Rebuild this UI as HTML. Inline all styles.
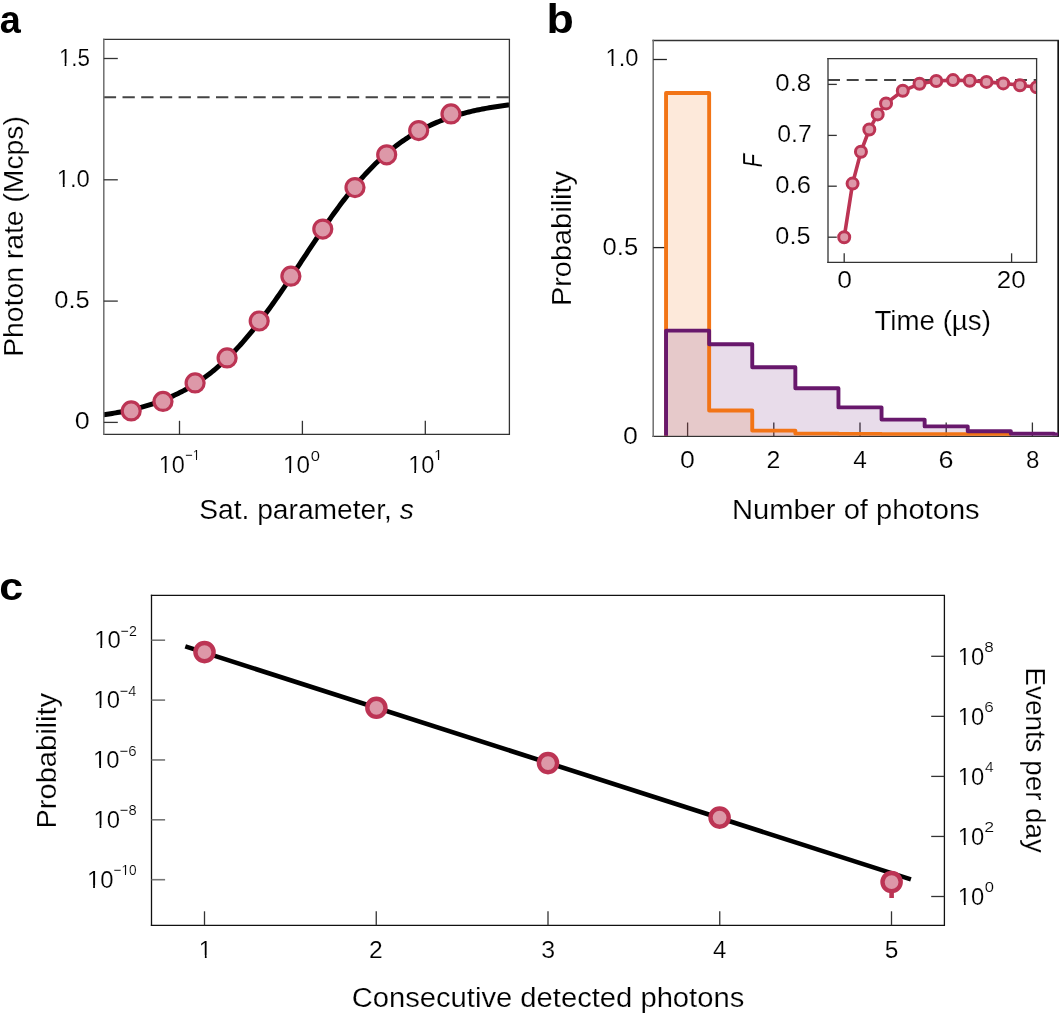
<!DOCTYPE html><html><head><meta charset="utf-8"><title>Figure</title><style>
html,body{margin:0;padding:0;background:#fff;width:1059px;height:1014px;overflow:hidden}
svg{display:block;will-change:transform;font-family:'Liberation Sans', sans-serif} text{fill:#000;stroke:#fff;stroke-width:0.18px;stroke-linejoin:round}
</style></head><body>
<svg width="1059" height="1014" viewBox="0 0 1059 1014">
<rect width="1059" height="1014" fill="#fff"/>
<line x1="103.8" y1="97.3" x2="509.4" y2="97.3" stroke="#444" stroke-width="2" stroke-dasharray="12.3 6.4"/>
<path d="M103.80,414.69 L105.49,414.45 L107.18,414.20 L108.87,413.95 L110.56,413.68 L112.25,413.41 L113.94,413.13 L115.63,412.84 L117.32,412.54 L119.01,412.23 L120.70,411.92 L122.39,411.59 L124.08,411.25 L125.77,410.91 L127.46,410.55 L129.15,410.19 L130.84,409.81 L132.53,409.42 L134.22,409.02 L135.91,408.61 L137.60,408.18 L139.29,407.75 L140.98,407.30 L142.67,406.83 L144.36,406.36 L146.05,405.87 L147.74,405.36 L149.43,404.85 L151.12,404.31 L152.81,403.76 L154.50,403.20 L156.19,402.62 L157.88,402.02 L159.57,401.41 L161.26,400.78 L162.95,400.13 L164.64,399.47 L166.33,398.78 L168.02,398.08 L169.71,397.36 L171.40,396.62 L173.09,395.86 L174.78,395.07 L176.47,394.27 L178.16,393.45 L179.85,392.60 L181.54,391.73 L183.23,390.84 L184.92,389.93 L186.61,388.99 L188.30,388.03 L189.99,387.05 L191.68,386.04 L193.37,385.00 L195.06,383.94 L196.75,382.86 L198.44,381.74 L200.13,380.61 L201.82,379.44 L203.51,378.25 L205.20,377.02 L206.89,375.77 L208.58,374.50 L210.27,373.19 L211.96,371.85 L213.65,370.49 L215.34,369.09 L217.03,367.67 L218.72,366.21 L220.41,364.73 L222.10,363.21 L223.79,361.66 L225.48,360.08 L227.17,358.47 L228.86,356.83 L230.55,355.16 L232.24,353.46 L233.93,351.73 L235.62,349.96 L237.31,348.16 L239.00,346.34 L240.69,344.48 L242.38,342.59 L244.07,340.67 L245.76,338.72 L247.45,336.74 L249.14,334.73 L250.83,332.69 L252.52,330.62 L254.21,328.52 L255.90,326.40 L257.59,324.24 L259.28,322.06 L260.97,319.86 L262.66,317.63 L264.35,315.37 L266.04,313.09 L267.73,310.78 L269.42,308.45 L271.11,306.10 L272.80,303.73 L274.49,301.34 L276.18,298.93 L277.87,296.50 L279.56,294.06 L281.25,291.59 L282.94,289.12 L284.63,286.63 L286.32,284.12 L288.01,281.61 L289.70,279.08 L291.39,276.54 L293.08,274.00 L294.77,271.45 L296.46,268.90 L298.15,266.34 L299.84,263.77 L301.53,261.21 L303.22,258.64 L304.91,256.08 L306.60,253.52 L308.29,250.96 L309.98,248.40 L311.67,245.86 L313.36,243.32 L315.05,240.78 L316.74,238.26 L318.43,235.75 L320.12,233.25 L321.81,230.76 L323.50,228.29 L325.19,225.83 L326.88,223.39 L328.57,220.97 L330.26,218.57 L331.95,216.18 L333.64,213.82 L335.33,211.48 L337.02,209.16 L338.71,206.86 L340.40,204.59 L342.09,202.34 L343.78,200.12 L345.47,197.92 L347.16,195.75 L348.85,193.60 L350.54,191.49 L352.23,189.40 L353.92,187.34 L355.61,185.31 L357.30,183.31 L358.99,181.34 L360.68,179.40 L362.37,177.50 L364.06,175.62 L365.75,173.77 L367.44,171.95 L369.13,170.17 L370.82,168.41 L372.51,166.69 L374.20,165.00 L375.89,163.34 L377.58,161.71 L379.27,160.11 L380.96,158.54 L382.65,157.01 L384.34,155.50 L386.03,154.02 L387.72,152.58 L389.41,151.17 L391.10,149.78 L392.79,148.43 L394.48,147.10 L396.17,145.80 L397.86,144.53 L399.55,143.29 L401.24,142.08 L402.93,140.90 L404.62,139.74 L406.31,138.61 L408.00,137.51 L409.69,136.43 L411.38,135.38 L413.07,134.35 L414.76,133.35 L416.45,132.38 L418.14,131.43 L419.83,130.50 L421.52,129.59 L423.21,128.71 L424.90,127.85 L426.59,127.01 L428.28,126.19 L429.97,125.40 L431.66,124.62 L433.35,123.87 L435.04,123.14 L436.73,122.42 L438.42,121.72 L440.11,121.05 L441.80,120.39 L443.49,119.75 L445.18,119.12 L446.87,118.51 L448.56,117.92 L450.25,117.35 L451.94,116.79 L453.63,116.25 L455.32,115.72 L457.01,115.21 L458.70,114.71 L460.39,114.22 L462.08,113.75 L463.77,113.29 L465.46,112.85 L467.15,112.42 L468.84,112.00 L470.53,111.59 L472.22,111.19 L473.91,110.81 L475.60,110.43 L477.29,110.07 L478.98,109.72 L480.67,109.38 L482.36,109.04 L484.05,108.72 L485.74,108.41 L487.43,108.10 L489.12,107.81 L490.81,107.52 L492.50,107.24 L494.19,106.97 L495.88,106.71 L497.57,106.46 L499.26,106.21 L500.95,105.97 L502.64,105.74 L504.33,105.52 L506.02,105.30 L507.71,105.08 L509.40,104.88" fill="none" stroke="#000" stroke-width="5"/>
<circle cx="131.2" cy="410.9" r="9.0" fill="#dd98a8" stroke="#bc3454" stroke-width="3.2"/>
<circle cx="163.0" cy="401.4" r="9.0" fill="#dd98a8" stroke="#bc3454" stroke-width="3.2"/>
<circle cx="195.1" cy="382.9" r="9.0" fill="#dd98a8" stroke="#bc3454" stroke-width="3.2"/>
<circle cx="227.1" cy="357.9" r="9.0" fill="#dd98a8" stroke="#bc3454" stroke-width="3.2"/>
<circle cx="259.2" cy="321.0" r="9.0" fill="#dd98a8" stroke="#bc3454" stroke-width="3.2"/>
<circle cx="290.9" cy="276.2" r="9.0" fill="#dd98a8" stroke="#bc3454" stroke-width="3.2"/>
<circle cx="322.8" cy="229.1" r="9.0" fill="#dd98a8" stroke="#bc3454" stroke-width="3.2"/>
<circle cx="355.0" cy="187.6" r="9.0" fill="#dd98a8" stroke="#bc3454" stroke-width="3.2"/>
<circle cx="386.7" cy="154.8" r="9.0" fill="#dd98a8" stroke="#bc3454" stroke-width="3.2"/>
<circle cx="418.7" cy="130.6" r="9.0" fill="#dd98a8" stroke="#bc3454" stroke-width="3.2"/>
<circle cx="451.0" cy="113.9" r="9.0" fill="#dd98a8" stroke="#bc3454" stroke-width="3.2"/>
<line x1="103.05" y1="39.30" x2="510.05" y2="39.30" stroke="#333" stroke-width="1.3"/>
<line x1="103.05" y1="434.30" x2="510.05" y2="434.30" stroke="#333" stroke-width="1.3"/>
<line x1="509.40" y1="39.30" x2="509.40" y2="434.30" stroke="#333" stroke-width="1.3"/>
<line x1="103.80" y1="38.65" x2="103.80" y2="434.95" stroke="#6e6e6e" stroke-width="1.5"/>
<line x1="103.80" y1="58.50" x2="117.80" y2="58.50" stroke="#333" stroke-width="1.3"/>
<line x1="103.80" y1="179.80" x2="117.80" y2="179.80" stroke="#333" stroke-width="1.3"/>
<line x1="103.80" y1="301.10" x2="117.80" y2="301.10" stroke="#333" stroke-width="1.3"/>
<line x1="103.80" y1="422.40" x2="117.80" y2="422.40" stroke="#333" stroke-width="1.3"/>
<line x1="179.50" y1="420.80" x2="179.50" y2="434.30" stroke="#333" stroke-width="1.3"/>
<line x1="302.40" y1="420.80" x2="302.40" y2="434.30" stroke="#333" stroke-width="1.3"/>
<line x1="425.30" y1="420.80" x2="425.30" y2="434.30" stroke="#333" stroke-width="1.3"/>
<line x1="652.45" y1="40.50" x2="1058.95" y2="40.50" stroke="#333" stroke-width="1.3"/>
<line x1="652.45" y1="436.30" x2="1058.95" y2="436.30" stroke="#333" stroke-width="1.3"/>
<line x1="1058.30" y1="40.50" x2="1058.30" y2="436.30" stroke="#333" stroke-width="1.3"/>
<line x1="653.20" y1="39.85" x2="653.20" y2="436.95" stroke="#6e6e6e" stroke-width="1.5"/>
<line x1="1058.30" y1="40.50" x2="1058.30" y2="436.30" stroke="#111" stroke-width="1.6"/>
<line x1="653.20" y1="59.50" x2="666.90" y2="59.50" stroke="#222" stroke-width="1.3"/>
<line x1="653.20" y1="247.60" x2="666.90" y2="247.60" stroke="#222" stroke-width="1.3"/>
<line x1="687.60" y1="422.50" x2="687.60" y2="436.30" stroke="#333" stroke-width="1.3"/>
<line x1="773.80" y1="422.50" x2="773.80" y2="436.30" stroke="#333" stroke-width="1.3"/>
<line x1="860.00" y1="422.50" x2="860.00" y2="436.30" stroke="#333" stroke-width="1.3"/>
<line x1="946.20" y1="422.50" x2="946.20" y2="436.30" stroke="#333" stroke-width="1.3"/>
<line x1="1032.40" y1="422.50" x2="1032.40" y2="436.30" stroke="#333" stroke-width="1.3"/>
<clipPath id="bc"><rect x="653.2" y="40.5" width="405.10" height="395.20"/></clipPath><g clip-path="url(#bc)">
<path d="M666.05,436.3 L666.05,93.00 L666.05,93.00 L709.15,93.00 L709.15,410.50 L752.25,410.50 L752.25,430.60 L795.35,430.60 L795.35,433.60 L838.45,433.60 L838.45,433.90 L881.55,433.90 L881.55,434.10 L924.65,434.10 L924.65,434.20 L967.75,434.20 L967.75,434.30 L1010.85,434.30 L1010.85,436.3 Z" fill="#f27416" fill-opacity="0.155" stroke="none"/>
<path d="M666.05,436.3 L666.05,330.60 L666.05,330.60 L709.15,330.60 L709.15,344.20 L752.25,344.20 L752.25,367.20 L795.35,367.20 L795.35,388.30 L838.45,388.30 L838.45,407.40 L881.55,407.40 L881.55,419.60 L924.65,419.60 L924.65,426.40 L967.75,426.40 L967.75,431.30 L1010.85,431.30 L1010.85,433.80 L1053.95,433.80 L1053.95,434.50 L1097.05,434.50 L1097.05,436.3 Z" fill="#661670" fill-opacity="0.15" stroke="none"/>
<path d="M666.05,436.3 L666.05,93.00 L666.05,93.00 L709.15,93.00 L709.15,410.50 L752.25,410.50 L752.25,430.60 L795.35,430.60 L795.35,433.60 L838.45,433.60 L838.45,433.90 L881.55,433.90 L881.55,434.10 L924.65,434.10 L924.65,434.20 L967.75,434.20 L967.75,434.30 L1010.85,434.30" fill="none" stroke="#f27416" stroke-width="3.9" stroke-linejoin="round"/>
<path d="M666.05,436.3 L666.05,330.60 L666.05,330.60 L709.15,330.60 L709.15,344.20 L752.25,344.20 L752.25,367.20 L795.35,367.20 L795.35,388.30 L838.45,388.30 L838.45,407.40 L881.55,407.40 L881.55,419.60 L924.65,419.60 L924.65,426.40 L967.75,426.40 L967.75,431.30 L1010.85,431.30 L1010.85,433.80 L1053.95,433.80 L1053.95,434.50 L1097.05,434.50" fill="none" stroke="#68186c" stroke-width="3.9" stroke-linejoin="round"/>
</g>
<rect x="828.0" y="58.7" width="208.60" height="203.60" fill="#fff" stroke="none"/>
<line x1="828.0" y1="79.9" x2="1036.6" y2="79.9" stroke="#444" stroke-width="2" stroke-dasharray="12 6.7"/>
<line x1="828.00" y1="84.40" x2="836.80" y2="84.40" stroke="#333" stroke-width="1.3"/>
<line x1="828.00" y1="135.40" x2="836.80" y2="135.40" stroke="#333" stroke-width="1.3"/>
<line x1="828.00" y1="186.20" x2="836.80" y2="186.20" stroke="#333" stroke-width="1.3"/>
<line x1="828.00" y1="237.20" x2="836.80" y2="237.20" stroke="#333" stroke-width="1.3"/>
<line x1="844.20" y1="253.30" x2="844.20" y2="262.30" stroke="#333" stroke-width="1.3"/>
<line x1="1011.60" y1="253.30" x2="1011.60" y2="262.30" stroke="#333" stroke-width="1.3"/>
<clipPath id="ic"><rect x="828.0" y="58.7" width="208.60" height="203.60"/></clipPath>
<g clip-path="url(#ic)">
<path d="M844.20,237.20 L852.57,183.60 L860.94,151.70 L869.31,129.50 L877.68,114.40 L886.05,103.40 L902.79,90.80 L919.53,83.80 L936.27,81.00 L953.01,80.10 L969.75,80.70 L986.49,81.90 L1003.23,83.40 L1019.97,85.20 L1036.71,87.30" fill="none" stroke="#bc3454" stroke-width="3.6" stroke-linejoin="round"/>
<circle cx="844.20" cy="237.2" r="5.5" fill="#dd98a8" stroke="#bc3454" stroke-width="3.0"/>
<circle cx="852.57" cy="183.6" r="5.5" fill="#dd98a8" stroke="#bc3454" stroke-width="3.0"/>
<circle cx="860.94" cy="151.7" r="5.5" fill="#dd98a8" stroke="#bc3454" stroke-width="3.0"/>
<circle cx="869.31" cy="129.5" r="5.5" fill="#dd98a8" stroke="#bc3454" stroke-width="3.0"/>
<circle cx="877.68" cy="114.4" r="5.5" fill="#dd98a8" stroke="#bc3454" stroke-width="3.0"/>
<circle cx="886.05" cy="103.4" r="5.5" fill="#dd98a8" stroke="#bc3454" stroke-width="3.0"/>
<circle cx="902.79" cy="90.8" r="5.5" fill="#dd98a8" stroke="#bc3454" stroke-width="3.0"/>
<circle cx="919.53" cy="83.8" r="5.5" fill="#dd98a8" stroke="#bc3454" stroke-width="3.0"/>
<circle cx="936.27" cy="81.0" r="5.5" fill="#dd98a8" stroke="#bc3454" stroke-width="3.0"/>
<circle cx="953.01" cy="80.1" r="5.5" fill="#dd98a8" stroke="#bc3454" stroke-width="3.0"/>
<circle cx="969.75" cy="80.7" r="5.5" fill="#dd98a8" stroke="#bc3454" stroke-width="3.0"/>
<circle cx="986.49" cy="81.9" r="5.5" fill="#dd98a8" stroke="#bc3454" stroke-width="3.0"/>
<circle cx="1003.23" cy="83.4" r="5.5" fill="#dd98a8" stroke="#bc3454" stroke-width="3.0"/>
<circle cx="1019.97" cy="85.2" r="5.5" fill="#dd98a8" stroke="#bc3454" stroke-width="3.0"/>
<circle cx="1036.71" cy="87.3" r="5.5" fill="#dd98a8" stroke="#bc3454" stroke-width="3.0"/>
</g>
<line x1="827.35" y1="58.70" x2="1037.25" y2="58.70" stroke="#333" stroke-width="1.3"/>
<line x1="827.35" y1="262.30" x2="1037.25" y2="262.30" stroke="#333" stroke-width="1.3"/>
<line x1="1036.60" y1="58.70" x2="1036.60" y2="262.30" stroke="#333" stroke-width="1.3"/>
<line x1="828.00" y1="58.05" x2="828.00" y2="262.95" stroke="#333" stroke-width="1.3"/>
<line x1="185.3" y1="646.4" x2="910.9" y2="879.4" stroke="#000" stroke-width="4.6"/>
<line x1="891.6" y1="882" x2="891.6" y2="898" stroke="#bc3454" stroke-width="4.6"/>
<circle cx="204.5" cy="652.1" r="9.1" fill="#dd98a8" stroke="#bc3454" stroke-width="4.4"/>
<circle cx="376.4" cy="707.8" r="9.1" fill="#dd98a8" stroke="#bc3454" stroke-width="4.4"/>
<circle cx="548.0" cy="763.1" r="9.1" fill="#dd98a8" stroke="#bc3454" stroke-width="4.4"/>
<circle cx="719.6" cy="817.6" r="9.1" fill="#dd98a8" stroke="#bc3454" stroke-width="4.4"/>
<circle cx="891.6" cy="882.1" r="9.1" fill="#dd98a8" stroke="#bc3454" stroke-width="4.4"/>
<line x1="150.85" y1="595.40" x2="945.05" y2="595.40" stroke="#111" stroke-width="1.3"/>
<line x1="150.85" y1="925.30" x2="945.05" y2="925.30" stroke="#111" stroke-width="1.3"/>
<line x1="944.40" y1="595.40" x2="944.40" y2="925.30" stroke="#111" stroke-width="1.3"/>
<line x1="151.50" y1="594.75" x2="151.50" y2="925.95" stroke="#111" stroke-width="1.3"/>
<line x1="151.50" y1="640.20" x2="165.10" y2="640.20" stroke="#777" stroke-width="1.6"/>
<line x1="151.50" y1="700.10" x2="165.10" y2="700.10" stroke="#777" stroke-width="1.6"/>
<line x1="151.50" y1="759.95" x2="165.10" y2="759.95" stroke="#777" stroke-width="1.6"/>
<line x1="151.50" y1="819.80" x2="165.10" y2="819.80" stroke="#777" stroke-width="1.6"/>
<line x1="151.50" y1="879.70" x2="165.10" y2="879.70" stroke="#777" stroke-width="1.6"/>
<line x1="931.20" y1="656.30" x2="944.40" y2="656.30" stroke="#333" stroke-width="1.3"/>
<line x1="931.20" y1="716.35" x2="944.40" y2="716.35" stroke="#333" stroke-width="1.3"/>
<line x1="931.20" y1="776.40" x2="944.40" y2="776.40" stroke="#333" stroke-width="1.3"/>
<line x1="931.20" y1="836.45" x2="944.40" y2="836.45" stroke="#333" stroke-width="1.3"/>
<line x1="931.20" y1="896.50" x2="944.40" y2="896.50" stroke="#333" stroke-width="1.3"/>
<line x1="204.50" y1="911.30" x2="204.50" y2="925.30" stroke="#333" stroke-width="1.3"/>
<line x1="376.25" y1="911.30" x2="376.25" y2="925.30" stroke="#333" stroke-width="1.3"/>
<line x1="548.00" y1="911.30" x2="548.00" y2="925.30" stroke="#333" stroke-width="1.3"/>
<line x1="719.75" y1="911.30" x2="719.75" y2="925.30" stroke="#333" stroke-width="1.3"/>
<line x1="891.50" y1="911.30" x2="891.50" y2="925.30" stroke="#333" stroke-width="1.3"/>
<text transform="translate(-0.32,32.90) scale(0.9756,1.0000)" style="font-size:38.8px;font-weight:bold;fill:#000;stroke:none;">a</text>
<text transform="translate(546.41,32.90) scale(1.1250,1.0000)" style="font-size:39.8px;font-weight:bold;fill:#000;stroke:none;">b</text>
<text transform="translate(-0.76,600.20) scale(1.1053,1.0000)" style="font-size:38.9px;font-weight:bold;fill:#000;stroke:none;">c</text>
<text transform="translate(58.89,65.80) scale(0.9338,1.0000)" style="font-size:24.0px;">1.5</text>
<path transform="translate(58.89,65.80) scale(0.9338,1.0000)" d="M0.89,-2.44H6.19V0.64H0.89Z M8.00,-2.44H13.11V0.64H8.00Z" fill="#fff"/>
<text transform="translate(56.68,186.80) scale(0.9945,1.0000)" style="font-size:24.0px;">1.0</text>
<path transform="translate(56.68,186.80) scale(0.9945,1.0000)" d="M0.89,-2.44H6.19V0.64H0.89Z M8.00,-2.44H13.11V0.64H8.00Z" fill="#fff"/>
<text transform="translate(54.24,307.80) scale(1.0624,1.0000)" style="font-size:24.0px;">0.5</text>
<text transform="translate(74.78,428.90) scale(1.1217,1.0000)" style="font-size:24.0px;">0</text>
<text transform="translate(158.71,472.60) scale(0.9784,1.0000)" style="font-size:24.0px;">10</text>
<path transform="translate(158.71,472.60) scale(0.9784,1.0000)" d="M0.89,-2.44H6.19V0.64H0.89Z M8.00,-2.44H13.11V0.64H8.00Z" fill="#fff"/>
<text transform="translate(185.26,460.10) scale(0.8533,1.0000)" style="font-size:15.0px;">−1</text>
<path transform="translate(185.26,460.10) scale(0.8533,1.0000)" d="M9.32,-1.52H12.63V0.40H9.32Z M13.76,-1.52H16.96V0.40H13.76Z" fill="#fff"/>
<text transform="translate(282.95,472.60) scale(1.0117,1.0000)" style="font-size:24.0px;">10</text>
<path transform="translate(282.95,472.60) scale(1.0117,1.0000)" d="M0.89,-2.44H6.19V0.64H0.89Z M8.00,-2.44H13.11V0.64H8.00Z" fill="#fff"/>
<text transform="translate(310.65,461.20) scale(1.1034,1.0000)" style="font-size:15.0px;">0</text>
<text transform="translate(408.20,472.60) scale(0.9825,1.0000)" style="font-size:24.0px;">10</text>
<path transform="translate(408.20,472.60) scale(0.9825,1.0000)" d="M0.89,-2.44H6.19V0.64H0.89Z M8.00,-2.44H13.11V0.64H8.00Z" fill="#fff"/>
<text transform="translate(433.95,459.80) scale(1.0348,1.0000)" style="font-size:15.0px;">1</text>
<path transform="translate(433.95,459.80) scale(1.0348,1.0000)" d="M0.56,-1.52H3.87V0.40H0.56Z M5.00,-1.52H8.20V0.40H5.00Z" fill="#fff"/>
<text transform="translate(23.30,356.76) rotate(-90) scale(1.0036,1.0000)" style="font-size:28.2px;">Photon rate (Mcps)</text>
<text transform="translate(199.15,518.90) scale(1.0007,1.0000)" style="font-size:28.2px;">Sat. parameter, <tspan font-style="italic">s</tspan></text>
<text transform="translate(605.59,66.40) scale(0.9880,1.0000)" style="font-size:24.0px;">1.0</text>
<path transform="translate(605.59,66.40) scale(0.9880,1.0000)" d="M0.89,-2.44H6.19V0.64H0.89Z M8.00,-2.44H13.11V0.64H8.00Z" fill="#fff"/>
<text transform="translate(602.53,254.70) scale(1.0688,1.0000)" style="font-size:24.0px;">0.5</text>
<text transform="translate(623.09,443.80) scale(1.1130,1.0000)" style="font-size:24.0px;">0</text>
<text transform="translate(679.99,468.20) scale(1.1130,1.0000)" style="font-size:24.0px;">0</text>
<text transform="translate(766.60,468.20) scale(1.0364,1.0000)" style="font-size:24.0px;">2</text>
<text transform="translate(853.29,468.20) scale(1.0204,1.0000)" style="font-size:24.0px;">4</text>
<text transform="translate(938.59,468.20) scale(1.1273,1.0000)" style="font-size:24.0px;">6</text>
<text transform="translate(1025.90,468.20) scale(1.0044,1.0000)" style="font-size:24.0px;">8</text>
<text transform="translate(570.80,306.11) rotate(-90) scale(1.0267,1.0000)" style="font-size:28.2px;">Probability</text>
<text transform="translate(731.97,518.90) scale(1.0334,1.0000)" style="font-size:28.2px;">Number of photons</text>
<text transform="translate(775.32,91.20) scale(1.0752,1.0000)" style="font-size:24.0px;">0.8</text>
<text transform="translate(777.27,142.30) scale(1.0336,1.0000)" style="font-size:24.0px;">0.7</text>
<text transform="translate(775.33,193.10) scale(1.0656,1.0000)" style="font-size:24.0px;">0.6</text>
<text transform="translate(775.35,244.00) scale(1.0528,1.0000)" style="font-size:24.0px;">0.5</text>
<text transform="translate(837.20,288.00) scale(1.1043,1.0000)" style="font-size:24.0px;">0</text>
<text transform="translate(996.75,288.00) scale(1.0816,1.0000)" style="font-size:24.0px;">20</text>
<text transform="translate(762.00,167.59) rotate(-90) scale(0.7886,1.0000)" style="font-size:28.2px;font-style:italic;">F</text>
<text transform="translate(874.46,330.00) scale(0.9819,1.0000)" style="font-size:28.2px;">Time (µs)</text>
<text transform="translate(94.18,648.00) scale(0.9950,1.0000)" style="font-size:24.0px;">10</text>
<path transform="translate(94.18,648.00) scale(0.9950,1.0000)" d="M0.89,-2.44H6.19V0.64H0.89Z M8.00,-2.44H13.11V0.64H8.00Z" fill="#fff"/>
<text transform="translate(120.59,635.80) scale(0.9484,1.0000)" style="font-size:15.0px;">−2</text>
<text transform="translate(93.38,707.90) scale(0.9950,1.0000)" style="font-size:24.0px;">10</text>
<path transform="translate(93.38,707.90) scale(0.9950,1.0000)" d="M0.89,-2.44H6.19V0.64H0.89Z M8.00,-2.44H13.11V0.64H8.00Z" fill="#fff"/>
<text transform="translate(119.77,695.70) scale(0.9688,1.0000)" style="font-size:15.0px;">−4</text>
<text transform="translate(93.08,767.75) scale(0.9950,1.0000)" style="font-size:24.0px;">10</text>
<path transform="translate(93.08,767.75) scale(0.9950,1.0000)" d="M0.89,-2.44H6.19V0.64H0.89Z M8.00,-2.44H13.11V0.64H8.00Z" fill="#fff"/>
<text transform="translate(119.45,755.55) scale(1.0032,1.0000)" style="font-size:15.0px;">−6</text>
<text transform="translate(93.38,827.60) scale(0.9950,1.0000)" style="font-size:24.0px;">10</text>
<path transform="translate(93.38,827.60) scale(0.9950,1.0000)" d="M0.89,-2.44H6.19V0.64H0.89Z M8.00,-2.44H13.11V0.64H8.00Z" fill="#fff"/>
<text transform="translate(119.76,815.40) scale(0.9841,1.0000)" style="font-size:15.0px;">−8</text>
<text transform="translate(86.98,887.50) scale(0.9950,1.0000)" style="font-size:24.0px;">10</text>
<path transform="translate(86.98,887.50) scale(0.9950,1.0000)" d="M0.89,-2.44H6.19V0.64H0.89Z M8.00,-2.44H13.11V0.64H8.00Z" fill="#fff"/>
<text transform="translate(113.42,875.30) scale(0.9125,1.0000)" style="font-size:15.0px;">−10</text>
<path transform="translate(113.42,875.30) scale(0.9125,1.0000)" d="M9.32,-1.52H12.63V0.40H9.32Z M13.76,-1.52H16.96V0.40H13.76Z" fill="#fff"/>
<text transform="translate(957.79,664.60) scale(0.9909,1.0000)" style="font-size:24.0px;">10</text>
<path transform="translate(957.79,664.60) scale(0.9909,1.0000)" d="M0.89,-2.44H6.19V0.64H0.89Z M8.00,-2.44H13.11V0.64H8.00Z" fill="#fff"/>
<text transform="translate(984.34,652.10) scale(1.1429,1.0000)" style="font-size:15.0px;">8</text>
<text transform="translate(957.79,724.65) scale(0.9909,1.0000)" style="font-size:24.0px;">10</text>
<path transform="translate(957.79,724.65) scale(0.9909,1.0000)" d="M0.89,-2.44H6.19V0.64H0.89Z M8.00,-2.44H13.11V0.64H8.00Z" fill="#fff"/>
<text transform="translate(984.34,712.15) scale(1.1429,1.0000)" style="font-size:15.0px;">6</text>
<text transform="translate(957.79,784.70) scale(0.9909,1.0000)" style="font-size:24.0px;">10</text>
<path transform="translate(957.79,784.70) scale(0.9909,1.0000)" d="M0.89,-2.44H6.19V0.64H0.89Z M8.00,-2.44H13.11V0.64H8.00Z" fill="#fff"/>
<text transform="translate(984.94,772.20) scale(1.0323,1.0000)" style="font-size:15.0px;">4</text>
<text transform="translate(957.79,844.75) scale(0.9909,1.0000)" style="font-size:24.0px;">10</text>
<path transform="translate(957.79,844.75) scale(0.9909,1.0000)" d="M0.89,-2.44H6.19V0.64H0.89Z M8.00,-2.44H13.11V0.64H8.00Z" fill="#fff"/>
<text transform="translate(984.31,832.25) scale(1.1852,1.0000)" style="font-size:15.0px;">2</text>
<text transform="translate(957.79,904.80) scale(0.9909,1.0000)" style="font-size:24.0px;">10</text>
<path transform="translate(957.79,904.80) scale(0.9909,1.0000)" d="M0.89,-2.44H6.19V0.64H0.89Z M8.00,-2.44H13.11V0.64H8.00Z" fill="#fff"/>
<text transform="translate(984.65,892.30) scale(1.1034,1.0000)" style="font-size:15.0px;">0</text>
<text transform="translate(198.75,957.60) scale(0.9855,1.0000)" style="font-size:24.0px;">1</text>
<path transform="translate(198.75,957.60) scale(0.9855,1.0000)" d="M0.89,-2.44H6.19V0.64H0.89Z M8.00,-2.44H13.11V0.64H8.00Z" fill="#fff"/>
<text transform="translate(369.12,957.60) scale(1.0273,1.0000)" style="font-size:24.0px;">2</text>
<text transform="translate(541.16,957.60) scale(1.0400,1.0000)" style="font-size:24.0px;">3</text>
<text transform="translate(713.00,957.60) scale(0.9959,1.0000)" style="font-size:24.0px;">4</text>
<text transform="translate(884.78,957.60) scale(1.0222,1.0000)" style="font-size:24.0px;">5</text>
<text transform="translate(55.50,828.52) rotate(-90) scale(1.0306,1.0000)" style="font-size:28.2px;">Probability</text>
<text transform="translate(1026.10,667.58) rotate(90) scale(0.9857,1.0000)" style="font-size:28.2px;">Events per day</text>
<text transform="translate(351.65,1007.00) scale(1.0354,1.0000)" style="font-size:28.2px;">Consecutive detected photons</text>
</svg></body></html>
